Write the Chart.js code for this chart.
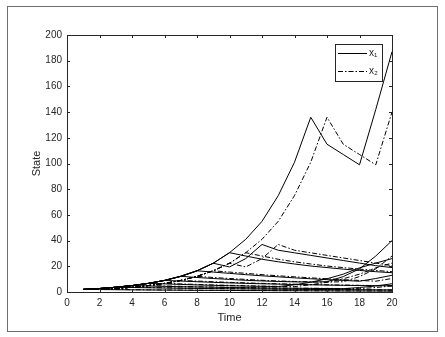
<!DOCTYPE html>
<html>
<head>
<meta charset="utf-8">
<script src="https://cdn.jsdelivr.net/npm/chart.js@4.4.0/dist/chart.umd.min.js"></script>
<style>
  body { margin: 0; background: #fff; }
  canvas { display: block; }
</style>
</head>
<body>
<canvas id="stateChart" width="445" height="337"></canvas>
<script>
// time steps
const times = [1, 2, 3, 4, 5, 6, 7, 8, 9, 10, 11, 12, 13, 14, 15, 16, 17, 18, 19, 20];
const xTicks = [0, 2, 4, 6, 8, 10, 12, 14, 16, 18, 20];
const yTicks = [0, 20, 40, 60, 80, 100, 120, 140, 160, 180, 200];

// x1 trajectories (solid)
const x1a = [2, 2.7, 3.7, 5, 6.7, 9, 12.2, 16.5, 22.4, 30.6, 41, 55, 75, 101, 136, 115, 107, 99, 142, 187];
const x1b = [2, 2.7, 3.7, 5, 6.7, 9, 12.2, 16.5, 22.4, 30.6, 28, 25.5, 23.5, 21.8, 20.2, 19, 17.8, 16.8, 15.8, 15];
const x1c = [2, 2.7, 3.7, 5, 6.7, 9, 12.2, 16.5, 22.4, 19.5, 26, 37, 32.5, 30.5, 28.5, 26.5, 24.5, 22.5, 20.5, 19];
const x1d = [2, 2.7, 3.7, 5, 6.7, 9, 12.2, 16.5, 15.5, 14.5, 13.5, 12.6, 11.8, 11, 10.3, 9.6, 9, 8.4, 10.5, 13];
const x1e = [2, 2.7, 3.7, 5, 6.7, 9, 12.2, 11.3, 10.5, 9.8, 9.1, 8.6, 8.2, 7.9, 7.7, 8, 12, 18, 28, 40];
const x1f = [2, 2.7, 3.7, 5, 6.7, 6.3, 5.9, 5.5, 5.2, 4.9, 4.6, 4.4, 4.2, 5.6, 7.6, 10.3, 13.9, 18.8, 22.5, 26];
const x1g = [2, 2.7, 3.7, 3.5, 3.3, 3.1, 2.9, 2.8, 2.6, 2.5, 2.4, 2.3, 2.2, 2.1, 2, 1.9, 1.8, 1.8, 1.7, 1.6];
const x1h = [2, 1.9, 1.8, 1.7, 1.6, 1.5, 1.4, 1.3, 1.3, 1.2, 1.1, 1.1, 1, 1, 0.9, 0.9, 0.8, 0.8, 0.8, 0.7];
const x1i = [2, 2.7, 3.7, 5, 4.7, 4.4, 4.1, 3.9, 3.7, 3.5, 3.3, 3.1, 3, 2.9, 2.8, 2.7, 2.6, 3.5, 4.7, 6.4];
const x1j = [2, 2.7, 3.7, 5, 6.7, 9, 8.5, 8, 7.5, 7.1, 6.7, 6.4, 6.1, 5.8, 5.6, 5.4, 5.2, 5, 4.9, 4.8];

// x2 trajectories (dash-dot)
const x2a = [2, 2, 2.7, 3.7, 5, 6.7, 9, 12.2, 16.5, 22.4, 30.6, 41, 55, 75, 101, 136, 115, 107, 99, 140];
const x2b = [2, 2, 2.7, 3.7, 5, 6.7, 9, 12.2, 16.5, 22.4, 30.6, 28, 25.5, 23.5, 21.8, 20.2, 19, 17.8, 16.8, 15.8];
const x2c = [2, 2, 2.7, 3.7, 5, 6.7, 9, 12.2, 16.5, 22.4, 19.5, 26, 37, 32.5, 30.5, 28.5, 26.5, 24.5, 22.5, 20.5];
const x2d = [2, 2, 2.7, 3.7, 5, 6.7, 9, 12.2, 16.5, 15.5, 14.5, 13.5, 12.6, 11.8, 11, 10.3, 9.6, 9, 8.4, 10.5];
const x2e = [2, 2, 2.7, 3.7, 5, 6.7, 9, 12.2, 11.3, 10.5, 9.8, 9.1, 8.6, 8.2, 7.9, 7.7, 8, 12, 18, 28];
const x2f = [2, 2, 2.7, 3.7, 5, 6.7, 6.3, 5.9, 5.5, 5.2, 4.9, 4.6, 4.4, 4.2, 5.6, 7.6, 10.3, 13.9, 18.8, 22.5];
const x2g = [2, 2, 2.7, 3.7, 3.5, 3.3, 3.1, 2.9, 2.8, 2.6, 2.5, 2.4, 2.3, 2.2, 2.1, 2, 1.9, 1.8, 1.8, 1.7];
const x2h = [2, 2, 1.9, 1.8, 1.7, 1.6, 1.5, 1.4, 1.3, 1.3, 1.2, 1.1, 1.1, 1, 1, 0.9, 0.9, 0.8, 0.8, 0.8];
const x2i = [2, 2, 2.7, 3.7, 5, 4.7, 4.4, 4.1, 3.9, 3.7, 3.5, 3.3, 3.1, 3, 2.9, 2.8, 2.7, 2.6, 3.5, 4.7];
const x2j = [2, 2, 2.7, 3.7, 5, 6.7, 9, 8.5, 8, 7.5, 7.1, 6.7, 6.4, 6.1, 5.8, 5.6, 5.4, 5.2, 5, 4.9];

const x1Series = [x1a, x1b, x1c, x1d, x1e, x1f, x1g, x1h, x1i, x1j];
const x2Series = [x2a, x2b, x2c, x2d, x2e, x2f, x2g, x2h, x2i, x2j];
const legendLabels = ['x\u2081', 'x\u2082'];

const ink = '#000000';
const axisInk = '#262626';
const dashDot = [5, 2, 1.5, 2];
const fontFamily = 'Arial, "Liberation Sans", Helvetica, sans-serif';

const toPoints = (vals) => vals.map((v, i) => ({ x: times[i], y: v }));

const datasets = [];
x1Series.forEach((s) => {
    datasets.push({ data: toPoints(s), borderColor: ink, borderWidth: 1, pointRadius: 0, tension: 0 });
});
x2Series.forEach((s) => {
    datasets.push({ data: toPoints(s), borderColor: ink, borderWidth: 1, borderDash: dashDot, pointRadius: 0, tension: 0 });
});

// box, inward ticks, legend and outer frame, drawn like the matlab figure
const figurePlugin = {
    id: 'figureDecor',
    afterDraw(chart) {
        const c = chart.ctx;
        const a = chart.chartArea;
        const xs = chart.scales.x;
        const ys = chart.scales.y;
        c.save();
        c.strokeStyle = axisInk;
        c.lineWidth = 1;
        c.setLineDash([]);
        c.strokeRect(a.left + 0.5, a.top + 0.5, a.right - a.left, a.bottom - a.top);

        c.beginPath();
        xTicks.forEach((t) => {
            const px = Math.round(xs.getPixelForValue(t)) + 0.5;
            c.moveTo(px, a.bottom); c.lineTo(px, a.bottom - 3);
            c.moveTo(px, a.top); c.lineTo(px, a.top + 3);
        });
        yTicks.forEach((t) => {
            const py = Math.round(ys.getPixelForValue(t)) + 0.5;
            c.moveTo(a.left, py); c.lineTo(a.left + 3, py);
            c.moveTo(a.right, py); c.lineTo(a.right - 3, py);
        });
        c.stroke();

        // legend
        const lx = 335, ly = 44, lw = 47, lh = 37;
        c.fillStyle = '#fff';
        c.fillRect(lx, ly, lw, lh);
        c.strokeStyle = axisInk;
        c.strokeRect(lx + 0.5, ly + 0.5, lw, lh);
        c.strokeStyle = ink;
        c.beginPath();
        c.moveTo(338, 53.5); c.lineTo(367, 53.5);
        c.stroke();
        c.setLineDash(dashDot);
        c.beginPath();
        c.moveTo(338, 71.5); c.lineTo(367, 71.5);
        c.stroke();
        c.setLineDash([]);
        c.fillStyle = axisInk;
        c.font = '10px ' + fontFamily;
        c.textBaseline = 'middle';
        c.fillText(legendLabels[0], 369, 53);
        c.fillText(legendLabels[1], 369, 71);

        // outer frame
        c.strokeStyle = '#6e6e6e';
        c.strokeRect(7.5, 6.5, 430, 325);
        c.restore();
    }
};

const ctx = document.getElementById('stateChart').getContext('2d');
const chart = new Chart(ctx, {
    type: 'line',
    data: { datasets: datasets },
    options: {
        responsive: false,
        animation: false,
        layout: { padding: { top: 35, right: 53, left: 0, bottom: 0 } },
        plugins: { legend: { display: false }, tooltip: { enabled: false } },
        scales: {
            x: {
                type: 'linear',
                min: 0,
                max: 20,
                afterBuildTicks: (s) => { s.ticks = xTicks.map(v => ({ value: v })); },
                afterFit: (s) => { s.height = 45; },
                grid: { display: false, drawTicks: false },
                border: { display: false },
                ticks: { color: axisInk, font: { family: fontFamily, size: 10 }, padding: 5, maxRotation: 0, autoSkip: false },
                title: { display: true, text: 'Time', color: axisInk, font: { family: fontFamily, size: 11 }, padding: { top: 0, bottom: 12 } }
            },
            y: {
                type: 'linear',
                min: 0,
                max: 200,
                afterBuildTicks: (s) => { s.ticks = yTicks.map(v => ({ value: v })); },
                afterFit: (s) => { s.width = 67; },
                grid: { display: false, drawTicks: false },
                border: { display: false },
                ticks: { color: axisInk, font: { family: fontFamily, size: 10 }, padding: 5, autoSkip: false },
                title: { display: true, text: 'State', color: axisInk, font: { family: fontFamily, size: 11 }, padding: { top: 30, bottom: 0 } }
            }
        }
    },
    plugins: [figurePlugin]
});
</script>
</body>
</html>
